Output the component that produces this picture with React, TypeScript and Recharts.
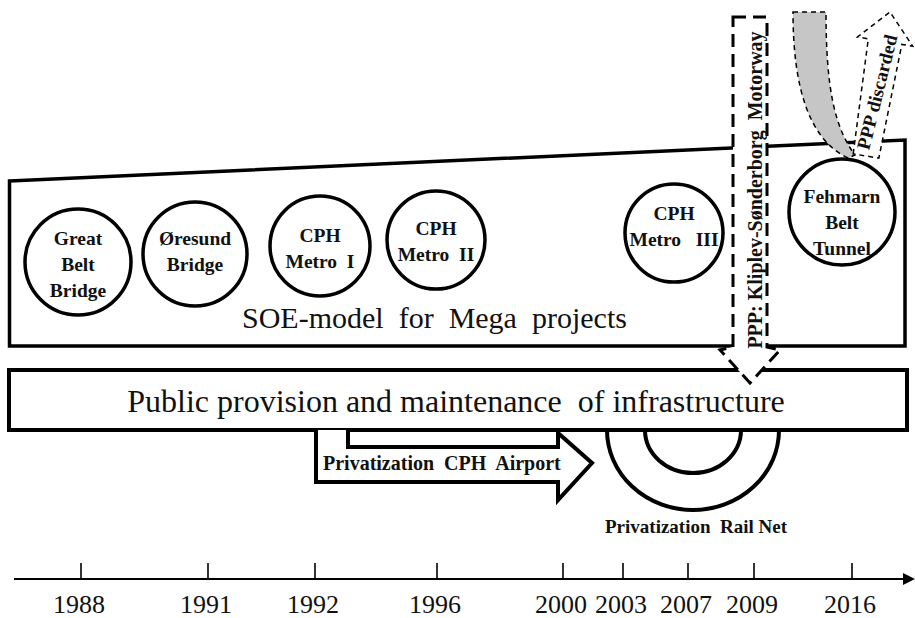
import React from 'react';
import { ComposedChart, XAxis, YAxis, Scatter, ReferenceArea } from 'recharts';

// ---------- data ----------
const years = ['1988', '1991', '1992', '1996', '2000', '2003', '2007', '2009', '2016'];
// schematic (non-linear) timeline positions of the years, in chart x units
const yearPos = [81, 208, 315, 437, 563, 623, 688, 754, 852];

const projectNames = ['Great Belt Bridge', 'Øresund Bridge', 'CPH Metro I', 'CPH Metro II', 'CPH Metro III', 'Fehmarn Belt Tunnel'];
const projectLines = [['Great', 'Belt', 'Bridge'], ['Øresund', 'Bridge'], ['CPH', 'Metro  I'], ['CPH', 'Metro  II'], ['CPH', 'Metro   III'], ['Fehmarn', 'Belt', 'Tunnel']];
const projectX = [78, 195, 320, 436, 674, 842];
const projectY = [262, 254, 246, 240, 233, 212];

const projects = projectNames.map((name, i) => ({ name, lines: projectLines[i], x: projectX[i], y: projectY[i], idx: i }));

// ---------- layout / style ----------
const W = 915;
const H = 618;
const AXIS_H = 39;
const PLOT_H = H - AXIS_H;
const FONT = "'Liberation Serif', 'Times New Roman', Times, serif";
const CIRCLE_R = [53, 52, 50, 49, 49, 53];
const LABEL_TOP = [-17, -9, -4, -5, -13, -9];
const LINE_GAP = 26;

type M = { x: (v: number) => number; y: (v: number) => number };

const mapper = (p: any, x1: number, x2: number, y1: number, y2: number): M => {
  const yMin = Math.min(y1, y2);
  const yMax = Math.max(y1, y2);
  return {
    x: (v: number) => p.x + ((v - x1) / (x2 - x1)) * p.width,
    y: (v: number) => p.y + ((v - yMin) / (yMax - yMin)) * p.height,
  };
};

const poly = (m: M, pts: number[][], close = true) =>
  pts.map((q, i) => `${i === 0 ? 'M' : 'L'}${m.x(q[0])},${m.y(q[1])}`).join(' ') + (close ? ' Z' : '');

const shapeArea = (key: string, x1: number, x2: number, y1: number, y2: number, draw: (m: M) => React.ReactElement) => (
  <ReferenceArea
    key={key}
    x1={x1}
    x2={x2}
    y1={y1}
    y2={y2}
    ifOverflow="visible"
    shape={(p: any) => draw(mapper(p, x1, x2, y1, y2))}
  />
);

const txt = (size: number, bold = false): React.CSSProperties => ({
  fontFamily: FONT,
  fontSize: size,
  fontWeight: bold ? 700 : 400,
  whiteSpace: 'pre',
  fill: '#111',
});

const TimelineTick = (props: any) => {
  const { x, y, payload } = props;
  const i = yearPos.indexOf(payload.value);
  return (
    <g>
      <line x1={x} x2={x} y1={y - 16} y2={y + 1} stroke="#000" strokeWidth={1.6} />
      <text x={x - 2} y={y + 34} textAnchor="middle" style={txt(26)}>
        {years[i]}
      </text>
    </g>
  );
};

const ProjectCircle = (props: any) => {
  const { cx, cy, payload } = props;
  const i = payload.idx;
  const r = CIRCLE_R[i];
  return (
    <g>
      <circle cx={cx} cy={cy} r={r} fill="#fff" stroke="#000" strokeWidth={3.5} />
      {payload.lines.map((ln: string, k: number) => (
        <text key={k} x={cx} y={cy + LABEL_TOP[i] + k * LINE_GAP} textAnchor="middle" style={txt(19.5, true)}>
          {ln}
        </text>
      ))}
    </g>
  );
};

// PPP discarded arrow geometry (tapered arrow)
const B = [866, 156];
const T = [890, 12];
const len = Math.hypot(T[0] - B[0], T[1] - B[1]);
const u = [(T[0] - B[0]) / len, (T[1] - B[1]) / len];
const n = [-u[1], u[0]];
const Hh = [T[0] - 30 * u[0], T[1] - 30 * u[1]];
const off = (p: number[], d: number) => [p[0] + d * n[0], p[1] + d * n[1]];
const discardedPts = [off(B, -13), off(Hh, -17), off(Hh, -28), T, off(Hh, 28), off(Hh, 17), off(B, 13)];

export default function App() {
  return (
    <div style={{ width: W, height: H, background: '#fff' }}>
      <style>{'body{margin:0;background:#fff}'}</style>
      <ComposedChart width={W} height={H} margin={{ top: 0, right: 0, bottom: 0, left: 0 }} data={projects}>
        <XAxis
          type="number"
          dataKey="x"
          domain={[0, W]}
          ticks={yearPos}
          interval={0}
          allowDataOverflow
          axisLine={false}
          tickLine={false}
          tickSize={0}
          tickMargin={0}
          height={AXIS_H}
          tick={<TimelineTick />}
        />
        <YAxis type="number" dataKey="y" domain={[0, PLOT_H]} reversed hide allowDataOverflow />

        {shapeArea('soe', 9.5, 905, 140, 346, (m) => (
          <g>
            <path d={poly(m, [[9.5, 181], [905, 140], [905, 346], [9.5, 346]])} fill="#fff" stroke="#000" strokeWidth={3.5} />
            <text x={m.x(242)} y={m.y(328)} style={txt(30)}>
              SOE-model  for  Mega  projects
            </text>
          </g>
        ))}

        {shapeArea('public', 9, 907, 370, 430, (m) => (
          <g>
            <rect x={m.x(9)} y={m.y(370)} width={m.x(907) - m.x(9)} height={m.y(430) - m.y(370)} fill="#fff" stroke="#000" strokeWidth={4} />
            <text x={m.x(456)} y={m.y(412)} textAnchor="middle" style={txt(32)}>
              Public provision and maintenance  of infrastructure
            </text>
          </g>
        ))}

        {shapeArea('airport', 316, 592, 430, 500, (m) => (
          <g>
            <path
              d={poly(m, [[316, 430], [316, 482], [558, 482], [558, 500], [592, 463], [558, 433], [558, 447], [348, 447], [348, 430]], false)}
              fill="#fff"
              stroke="#000"
              strokeWidth={4}
            />
            <text x={m.x(323)} y={m.y(470)} style={txt(20, true)}>
              Privatization  CPH  Airport
            </text>
          </g>
        ))}

        {shapeArea('rail', 605, 790, 430, 535, (m) => (
          <g>
            <path d={`M${m.x(607)},${m.y(430)} A86,80 0 0 0 ${m.x(779)},${m.y(430)}`} fill="none" stroke="#000" strokeWidth={4} />
            <path d={`M${m.x(645)},${m.y(430)} A48,43 0 0 0 ${m.x(741)},${m.y(430)}`} fill="none" stroke="#000" strokeWidth={4} />
            <text x={m.x(605)} y={m.y(533)} style={txt(19, true)}>
              Privatization  Rail Net
            </text>
          </g>
        ))}

        {shapeArea('ppp', 720, 780, 17, 383, (m) => (
          <g>
            <path
              d={poly(m, [[733, 17], [767, 17], [767, 347], [780, 350], [750, 383], [720, 350], [733, 347]])}
              fill="#fff"
              stroke="#000"
              strokeWidth={3}
              strokeDasharray="13 7"
            />
            <text
              x={m.x(755)}
              y={m.y(190)}
              transform={`rotate(-90 ${m.x(755)} ${m.y(190)})`}
              textAnchor="middle"
              dominantBaseline="central"
              style={txt(20, true)}
            >
              PPP: Kliplev-Sønderborg  Motorway
            </text>
          </g>
        ))}

        {shapeArea('band', 792, 856, 12, 158, (m) => (
          <path
            d={`M${m.x(793)},${m.y(12)} L${m.x(826)},${m.y(12)} C${m.x(826)},${m.y(90)} ${m.x(835)},${m.y(128)} ${m.x(855)},${m.y(155)} L${m.x(848)},${m.y(158)} C${m.x(810)},${m.y(140)} ${m.x(793)},${m.y(90)} ${m.x(793)},${m.y(12)} Z`}
            fill="#c6c6c6"
            stroke="#000"
            strokeWidth={1.5}
            strokeDasharray="5 4"
          />
        ))}

        {shapeArea('discarded', 850, 915, 10, 160, (m) => (
          <g>
            <path d={poly(m, discardedPts)} fill="#fff" stroke="#000" strokeWidth={1.5} strokeDasharray="5 4" />
            <text
              x={m.x(877)}
              y={m.y(92)}
              transform={`rotate(-76 ${m.x(877)} ${m.y(92)})`}
              textAnchor="middle"
              dominantBaseline="central"
              style={txt(19, true)}
            >
              PPP discarded
            </text>
          </g>
        ))}

        {shapeArea('timeline', 14, 915, 572, 586, (m) => (
          <g>
            <line x1={m.x(14)} x2={m.x(906)} y1={m.y(579)} y2={m.y(579)} stroke="#000" strokeWidth={2} />
            <path d={poly(m, [[903, 573], [915, 579], [903, 585]])} fill="#000" />
          </g>
        ))}

        <Scatter data={projects} isAnimationActive={false} shape={<ProjectCircle />} />
      </ComposedChart>
    </div>
  );
}
